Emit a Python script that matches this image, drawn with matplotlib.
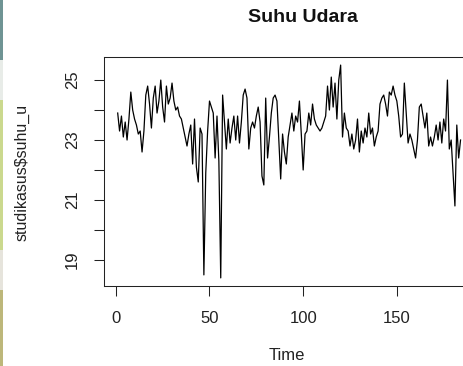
import matplotlib
matplotlib.use("Agg")
import matplotlib.pyplot as plt
from matplotlib.patches import Rectangle

# daily air temperature (studikasus$suhu_u)
suhu_u = [
    23.9, 23.3, 23.8, 23.1, 23.6, 23.0, 23.7, 24.6, 24.0, 23.7,
    23.5, 23.2, 23.3, 22.6, 23.3, 24.5, 24.8, 24.2, 23.4, 24.4,
    24.8, 23.9, 24.3, 25.0, 24.1, 23.6, 24.8, 24.2, 24.4, 24.9,
    24.3, 24.0, 24.1, 23.8, 23.7, 23.4, 23.1, 22.8, 23.2, 23.5,
    22.2, 23.7, 22.1, 21.6, 23.4, 23.2, 18.5, 21.9, 23.3, 24.3,
    24.1, 23.9, 22.4, 23.8, 22.3, 18.4, 24.5, 23.6, 22.7, 23.7,
    22.9, 23.4, 23.8, 23.0, 23.8, 22.9, 23.6, 24.5, 24.7, 24.4,
    22.7, 23.4, 23.6, 23.4, 23.8, 24.1, 23.6, 21.8, 21.5, 24.4,
    22.4, 23.1, 23.9, 24.4, 24.5, 24.3, 23.0, 21.7, 23.2, 22.6,
    22.2, 23.1, 23.5, 23.9, 23.3, 23.8, 23.6, 24.3, 23.2, 22.0,
    23.2, 23.3, 23.9, 23.5, 24.2, 23.7, 23.5, 23.4, 23.3, 23.4,
    23.6, 23.8, 24.8, 24.0, 25.1, 24.1, 24.9, 23.7, 25.0, 25.5,
    23.1, 23.9, 23.4, 23.3, 22.8, 23.2, 22.7, 23.0, 23.7, 22.6,
    23.3, 22.9, 23.4, 23.1, 23.9, 23.2, 23.4, 22.8, 23.1, 23.3,
    24.2, 24.4, 24.5, 24.2, 23.8, 24.6, 24.5, 24.8, 24.5, 24.3,
    23.8, 23.1, 23.2, 24.9, 23.9, 22.9, 23.2, 23.0, 22.7, 22.4,
    23.0, 24.1, 24.2, 23.8, 23.4, 23.9, 22.8, 23.1, 22.8, 23.1,
    23.5, 23.0, 23.6, 22.9, 23.7, 23.3, 25.0, 22.7, 23.0, 21.9,
    20.8, 23.5, 22.4, 23.0,
]
time = list(range(1, len(suhu_u) + 1))

x_ticks = [0, 50, 100, 150]
y_ticks = [19, 20, 21, 22, 23, 24, 25]
y_labels = ["19", "", "21", "", "23", "", "25"]

plt.rcParams['font.family'] = ['Liberation Sans', 'DejaVu Sans']

fig = plt.figure(figsize=(4.64, 3.66), dpi=100)
ax = fig.add_axes([0.2241, 0.2186, 0.798, 0.6257])

ax.plot(time, suhu_u, color='black', linewidth=0.9)

n = len(suhu_u)
ax.set_xlim(1 - 0.04 * (n - 1), n + 0.04 * (n - 1))
ax.set_ylim(18.13, 25.77)

ax.set_xticks(x_ticks)
ax.set_xticklabels([str(v) for v in x_ticks])
ax.set_yticks(y_ticks)
ax.set_yticklabels(y_labels, rotation=90, va='center')

ax.tick_params(axis='both', direction='out', length=7, width=0.75,
               labelsize=12, colors='#222222')
ax.tick_params(axis='x', pad=11)
ax.tick_params(axis='y', pad=10.5)
for sp in ax.spines.values():
    sp.set_linewidth(0.75)
    sp.set_color('#222222')

fig.text(303 / 464, 1 - 18 / 366, "Suhu Udara", ha='center', va='center',
         fontsize=14, fontweight='bold', color='#111111')
fig.text(287 / 464, 1 - 355 / 366, "Time", ha='center', va='center',
         fontsize=12, color='#222222')
fig.text(22 / 464, 1 - 172.5 / 366, "studikasus$suhu_u", ha='center',
         va='center', rotation=90, fontsize=11.5, color='#222222')

# thin coloured strip along the left edge of the screenshot
strip = [(0, 60, '#6f9494'), (60, 100, '#e8ece8'), (100, 250, '#cbd98e'),
         (250, 290, '#e6e4dc'), (290, 366, '#bdb77a')]
for y0, y1, c in strip:
    fig.add_artist(Rectangle((0, 1 - y1 / 366), 3 / 464, (y1 - y0) / 366,
                             transform=fig.transFigure, color=c, lw=0))

fig.savefig("out.png", dpi=100)
